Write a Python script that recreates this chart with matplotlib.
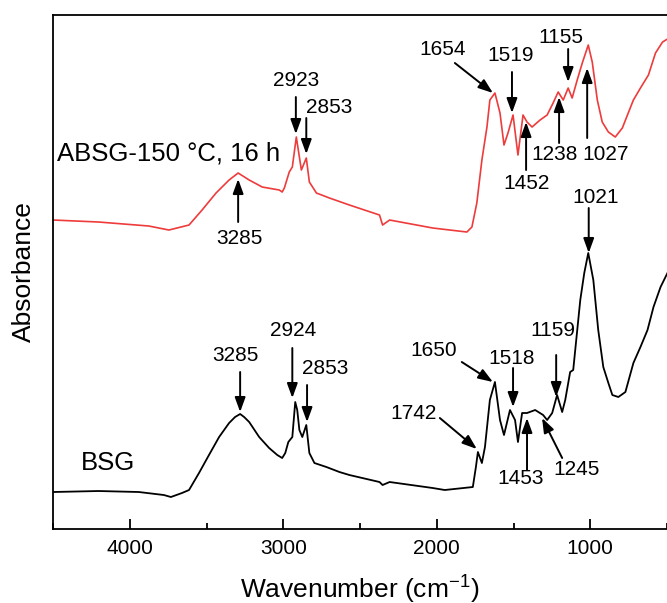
import matplotlib
matplotlib.use('Agg')
from matplotlib import pyplot as plt
from matplotlib.ticker import MultipleLocator

plt.rcParams['font.family'] = ['Liberation Sans', 'DejaVu Sans']
plt.rcParams['mathtext.fontset'] = 'custom'
plt.rcParams['mathtext.rm'] = 'Liberation Sans'

# BSG spectrum (wavenumber, absorbance a.u.)
bsg_wn = [4500, 4203, 3941, 3778, 3732, 3660, 3614, 3549, 3484, 3418, 3353, 3314,
          3281, 3255, 3222, 3157, 3092, 3039, 3007, 2987, 2967, 2941, 2922, 2909,
          2895, 2876, 2850, 2830, 2797, 2719, 2634, 2569, 2373, 2353, 2307, 2026,
          1948, 1765, 1745, 1732, 1706, 1686, 1654, 1621, 1588, 1562, 1523, 1490,
          1471, 1444, 1412, 1359, 1307, 1281, 1248, 1216, 1183, 1163, 1131, 1111,
          1065, 1039, 1013, 980, 948, 915, 882, 856, 817, 771, 719, 673, 627, 588,
          542, 497]
bsg_abs = [0.074, 0.076, 0.074, 0.068, 0.064, 0.072, 0.078, 0.112, 0.148, 0.184,
           0.212, 0.224, 0.230, 0.224, 0.214, 0.184, 0.162, 0.148, 0.142, 0.152,
           0.174, 0.184, 0.254, 0.238, 0.198, 0.184, 0.208, 0.152, 0.132, 0.124,
           0.114, 0.108, 0.094, 0.088, 0.094, 0.082, 0.078, 0.084, 0.124, 0.154,
           0.132, 0.164, 0.258, 0.294, 0.218, 0.188, 0.238, 0.218, 0.174, 0.232,
           0.232, 0.238, 0.228, 0.218, 0.232, 0.268, 0.234, 0.258, 0.314, 0.318,
           0.458, 0.512, 0.552, 0.498, 0.398, 0.324, 0.292, 0.268, 0.264, 0.274,
           0.332, 0.364, 0.398, 0.444, 0.484, 0.512]

# ABSG-150 C, 16 h spectrum
absg_wn = [4500, 4203, 3876, 3745, 3614, 3529, 3438, 3353, 3294, 3222, 3137, 3026,
           3007, 2993, 2961, 2941, 2915, 2902, 2882, 2850, 2830, 2784, 2699, 2569,
           2373, 2353, 2307, 2026, 1804, 1771, 1739, 1706, 1673, 1654, 1621, 1588,
           1562, 1536, 1503, 1471, 1438, 1412, 1379, 1327, 1281, 1242, 1209, 1176,
           1144, 1118, 1085, 1052, 1013, 987, 954, 922, 882, 837, 791, 719, 673,
           621, 575, 529, 497]
absg_abs = [0.618, 0.614, 0.606, 0.598, 0.608, 0.638, 0.672, 0.698, 0.712, 0.698,
            0.684, 0.678, 0.674, 0.682, 0.714, 0.724, 0.784, 0.758, 0.718, 0.742,
            0.694, 0.672, 0.662, 0.648, 0.628, 0.608, 0.618, 0.602, 0.594, 0.604,
            0.652, 0.738, 0.804, 0.858, 0.872, 0.832, 0.768, 0.792, 0.828, 0.748,
            0.828, 0.814, 0.804, 0.818, 0.828, 0.852, 0.874, 0.858, 0.882, 0.862,
            0.898, 0.932, 0.968, 0.934, 0.858, 0.814, 0.794, 0.784, 0.802, 0.858,
            0.882, 0.908, 0.952, 0.974, 0.980]

# peak labels: text, text pos, arrow tail, arrow tip
absg_peaks = [
    ('3285', (3288, 0.582), (3294, 0.614), (3294, 0.700)),
    ('2923', (2915, 0.898), (2918, 0.864), (2918, 0.790)),
    ('2853', (2699, 0.844), (2850, 0.822), (2850, 0.750)),
    ('1654', (1961, 0.960), (1882, 0.932), (1634, 0.872)),
    ('1519', (1516, 0.948), (1510, 0.914), (1510, 0.832)),
    ('1155', (1190, 0.984), (1144, 0.960), (1144, 0.894)),
    ('1452', (1418, 0.692), (1418, 0.718), (1418, 0.814)),
    ('1238', (1235, 0.750), (1203, 0.772), (1203, 0.864)),
    ('1027', (902, 0.750), (1020, 0.782), (1020, 0.922)),
]
bsg_peaks = [
    ('3285', (3314, 0.348), (3281, 0.314), (3281, 0.234)),
    ('2924', (2935, 0.398), (2941, 0.362), (2941, 0.262)),
    ('2853', (2725, 0.322), (2845, 0.288), (2845, 0.214)),
    ('1742', (2150, 0.232), (1980, 0.222), (1739, 0.160)),
    ('1650', (2020, 0.358), (1837, 0.334), (1634, 0.294)),
    ('1518', (1510, 0.342), (1503, 0.322), (1503, 0.244)),
    ('1159', (1242, 0.398), (1222, 0.348), (1222, 0.264)),
    ('1453', (1451, 0.102), (1412, 0.118), (1412, 0.222)),
    ('1245', (1091, 0.120), (1183, 0.142), (1314, 0.222)),
    ('1021', (967, 0.664), (1010, 0.642), (1010, 0.552)),
]

fig = plt.figure(figsize=(6.67, 6.03), dpi=100)
ax = fig.add_axes([0.0795, 0.1227, 0.9205, 0.8524])

ax.plot(bsg_wn, bsg_abs, color='black', lw=1.3)
ax.plot(absg_wn, absg_abs, color='#ee3b3b', lw=1.2)

for peaks in (absg_peaks, bsg_peaks):
    for txt, tpos, tail, tip in peaks:
        ax.text(tpos[0], tpos[1], txt, fontsize=15, ha='center', va='center')
        ax.annotate('', xy=tip, xytext=tail,
                    arrowprops=dict(arrowstyle='-|>,head_length=0.55,head_width=0.2',
                                    color='black', lw=1.4, mutation_scale=16,
                                    shrinkA=0, shrinkB=0))

ax.text(4471, 0.752, 'ABSG-150 °C, 16 h', fontsize=18.5, ha='left', va='center')
ax.text(4320, 0.132, 'BSG', fontsize=18.5, ha='left', va='center')

ax.set_xlim(4500, 500)
ax.set_ylim(0, 1.028)
ax.xaxis.set_major_locator(MultipleLocator(1000))
ax.xaxis.set_minor_locator(MultipleLocator(500))
ax.tick_params(axis='x', which='major', direction='in', length=7, width=1.3,
               labelsize=15, pad=7)
ax.tick_params(axis='x', which='minor', direction='in', length=4, width=1.3)
ax.set_yticks([])
ax.spines['right'].set_visible(False)
for s in ('left', 'top', 'bottom'):
    ax.spines[s].set_linewidth(1.3)

ax.set_xlabel('Wavenumber (cm$^{\\mathregular{-1}}$)', fontsize=19, labelpad=10)
ax.set_ylabel('Absorbance', fontsize=19, labelpad=12)

fig.savefig('out.png', dpi=100)
